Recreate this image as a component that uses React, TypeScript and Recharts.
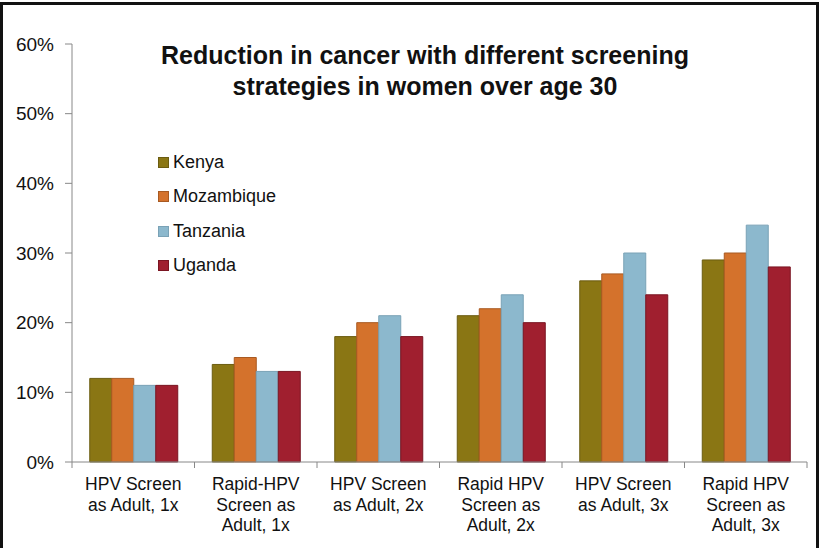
import { BarChart, Bar, XAxis, YAxis } from "recharts";

const categories = [
  "HPV Screen\nas Adult, 1x",
  "Rapid-HPV\nScreen as\nAdult, 1x",
  "HPV Screen\nas Adult, 2x",
  "Rapid HPV\nScreen as\nAdult, 2x",
  "HPV Screen\nas Adult, 3x",
  "Rapid HPV\nScreen as\nAdult, 3x",
];
const kenya = [12, 14, 18, 21, 26, 29];
const mozambique = [12, 15, 20, 22, 27, 30];
const tanzania = [11, 13, 21, 24, 30, 34];
const uganda = [11, 13, 18, 20, 24, 28];
const yTicks = [0, 10, 20, 30, 40, 50, 60];

const series = [
  { key: "Kenya", color: "#8a7614", stroke: "#6b5c10" },
  { key: "Mozambique", color: "#d4722c", stroke: "#a85a22" },
  { key: "Tanzania", color: "#8cb8cd", stroke: "#7aa2b6" },
  { key: "Uganda", color: "#a01f2f", stroke: "#7a1522" },
];

const data = categories.map((category, i) => ({
  category,
  Kenya: kenya[i],
  Mozambique: mozambique[i],
  Tanzania: tanzania[i],
  Uganda: uganda[i],
}));

const font = "'Liberation Sans', Arial, sans-serif";

function CategoryTick(props: any) {
  const { x, y, payload, index, visibleTicksCount } = props;
  const lines = String(payload.value).split("\n");
  const half = payload.offset ?? 61;
  return (
    <g>
      <line x1={x - half} x2={x - half} y1={y - 8} y2={y - 2} stroke="#888" />
      {index === visibleTicksCount - 1 && (
        <line x1={x + half} x2={x + half} y1={y - 8} y2={y - 2} stroke="#888" />
      )}
      <text textAnchor="middle" fontSize={17.5} fill="#111" fontFamily={font}>
        {lines.map((l, i) => (
          <tspan key={i} x={x} y={y + 20 + i * 20.5}>
            {l}
          </tspan>
        ))}
      </text>
    </g>
  );
}

export default function App() {
  return (
    <div
      style={{
        position: "absolute",
        left: 0,
        top: 0,
        width: 820,
        height: 548,
        background: "#fff",
        overflow: "hidden",
        fontFamily: font,
      }}
    >
      <BarChart
        width={820}
        height={548}
        data={data}
        margin={{ top: 44, right: 13, bottom: 0, left: 0 }}
        barCategoryGap="14.5%"
        barGap={0}
      >
        <XAxis
          dataKey="category"
          interval={0}
          height={86}
          tickLine={false}
          axisLine={{ stroke: "#888" }}
          tick={<CategoryTick />}
        />
        <YAxis
          width={72}
          domain={[0, 60]}
          ticks={yTicks}
          tickFormatter={(v) => `${v}%`}
          axisLine={{ stroke: "#888" }}
          tickLine={{ stroke: "#888" }}
          tickSize={7}
          tickMargin={11}
          tick={{ fontSize: 19, fill: "#111", fontFamily: font }}
        />
        {series.map((s) => (
          <Bar
            key={s.key}
            dataKey={s.key}
            fill={s.color}
            stroke={s.stroke}
            strokeWidth={1}
            isAnimationActive={false}
          />
        ))}
      </BarChart>

      <div
        style={{
          position: "absolute",
          left: 0,
          width: 850,
          top: 40,
          textAlign: "center",
          fontSize: 25,
          fontWeight: "bold",
          lineHeight: "31px",
          color: "#111",
        }}
      >
        Reduction in cancer with different screening
        <br />
        strategies in women over age 30
      </div>

      <div style={{ position: "absolute", left: 158, top: 145 }}>
        {series.map((s) => (
          <div
            key={s.key}
            style={{
              display: "flex",
              alignItems: "center",
              height: 34.5,
              fontSize: 18,
              color: "#111",
            }}
          >
            <span
              style={{
                display: "inline-block",
                width: 9,
                height: 9,
                background: s.color,
                border: `1px solid ${s.stroke}`,
                marginRight: 4,
              }}
            />
            {s.key}
          </div>
        ))}
      </div>

      <div
        style={{
          position: "absolute",
          left: 0,
          top: 2,
          width: 813,
          height: 560,
          border: "3px solid #111",
          pointerEvents: "none",
        }}
      />
    </div>
  );
}
